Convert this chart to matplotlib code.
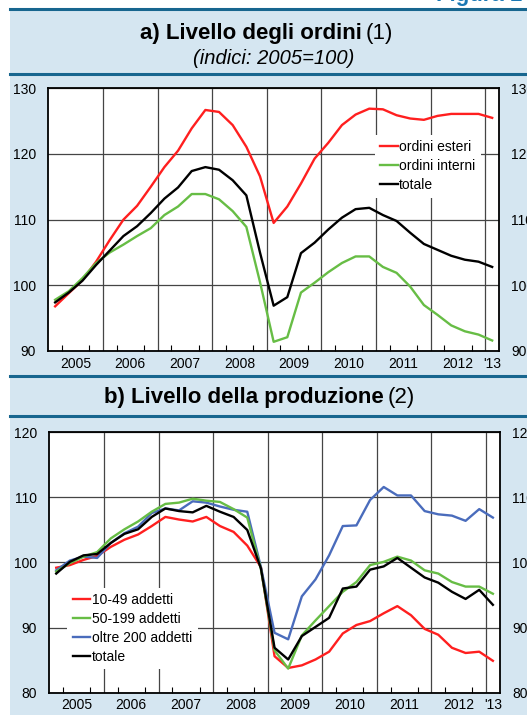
import numpy as np
import matplotlib
matplotlib.use("Agg")
import matplotlib.pyplot as plt
from matplotlib.patches import Rectangle
from matplotlib.lines import Line2D

plt.rcParams['font.family'] = ['Liberation Sans', 'DejaVu Sans']

# quarters 2005Q1 .. 2013Q1
years = [2005, 2006, 2007, 2008, 2009, 2010, 2011, 2012, 2013]
periods = [(y, q) for y in years for q in (1, 2, 3, 4)][:33]

# a) Livello degli ordini (indici: 2005=100)
ordini_esteri = [96.8, 98.8, 100.8, 103.6,
                 106.9, 110.0, 112.1, 115.0,
                 118.0, 120.5, 123.9, 126.7,
                 126.4, 124.4, 121.1, 116.6,
                 109.5, 112.0, 115.5, 119.3,
                 121.7, 124.4, 126.0, 126.9,
                 126.8, 125.9, 125.4, 125.2,
                 125.8, 126.1, 126.1, 126.1,
                 125.5]
ordini_interni = [97.8, 99.1, 101.1, 103.4,
                  105.0, 106.2, 107.5, 108.7,
                  110.7, 112.0, 113.9, 113.9,
                  113.1, 111.3, 108.9, 100.5,
                  91.4, 92.1, 98.9, 100.4,
                  102.0, 103.4, 104.4, 104.4,
                  102.8, 101.9, 99.8, 97.0,
                  95.5, 93.9, 93.0, 92.5,
                  91.6]
ordini_totale = [97.4, 98.9, 100.7, 103.1,
                 105.3, 107.5, 109.0, 111.0,
                 113.2, 114.9, 117.4, 118.0,
                 117.6, 116.0, 113.7, 105.0,
                 96.9, 98.2, 104.9, 106.5,
                 108.5, 110.3, 111.6, 111.8,
                 110.7, 109.8, 108.0, 106.3,
                 105.4, 104.5, 103.9, 103.6,
                 102.8]

# b) Livello della produzione
prod_10_49 = [99.2, 99.6, 100.4, 101.0,
              102.4, 103.5, 104.3, 105.6,
              107.0, 106.6, 106.3, 107.0,
              105.6, 104.7, 102.6, 99.3,
              85.6, 83.8, 84.2, 85.1,
              86.3, 89.1, 90.4, 91.0,
              92.2, 93.3, 91.9, 89.8,
              88.9, 86.9, 86.1, 86.3,
              84.9]
prod_50_199 = [98.6, 99.9, 100.9, 101.6,
               103.7, 105.1, 106.3, 107.8,
               109.0, 109.2, 109.8, 109.5,
               109.3, 108.2, 106.9, 99.0,
               86.5, 83.7, 88.8, 91.1,
               93.3, 95.5, 97.0, 99.6,
               100.1, 100.9, 100.3, 98.8,
               98.3, 97.0, 96.3, 96.3,
               95.2]
prod_oltre_200 = [98.8, 100.3, 100.9, 100.7,
                  103.0, 104.5, 105.5, 107.6,
                  108.3, 108.0, 109.4, 109.2,
                  108.6, 108.1, 107.8, 99.3,
                  89.2, 88.2, 94.8, 97.4,
                  101.1, 105.6, 105.7, 109.6,
                  111.6, 110.3, 110.3, 107.9,
                  107.4, 107.2, 106.4, 108.2,
                  106.9]
prod_totale = [98.3, 100.1, 101.1, 101.3,
               103.0, 104.4, 105.1, 107.0,
               108.3, 107.9, 107.7, 108.7,
               107.8, 107.0, 105.0, 99.1,
               86.9, 85.1, 88.7, 90.1,
               91.5, 96.0, 96.3, 98.9,
               99.4, 100.7, 99.2, 97.7,
               96.9, 95.5, 94.4, 95.8,
               93.5]

year_labels = ['2005', '2006', '2007', '2008', '2009', '2010', '2011', '2012', "'13"]

x = np.array([y + (q - 0.5) / 4 for y, q in periods])

W, H = 527, 715
BG = '#d5e6f1'
DARK = '#17668f'
RED = '#ff1f1f'
GREEN = '#67bd45'
BLUE = '#4a6cbc'


def fx(px):
    return px / W


def fy(px):
    return 1 - px / H


fig = plt.figure(figsize=(W / 100, H / 100), dpi=100)
fig.patches.append(Rectangle((fx(10), 0), 1, fy(9), transform=fig.transFigure,
                             facecolor=BG, edgecolor='none', zorder=-5))
for yy in (8.5, 74, 375.5, 416.5):
    fig.lines.append(Line2D([fx(10), 1], [fy(yy), fy(yy)], transform=fig.transFigure,
                            color=DARK, lw=2.2, zorder=-4))

# header of the page, cut by the crop
fig.text(fx(436), fy(1), "Figura 1", color='#1a78b4', weight='bold', fontsize=16,
         ha='left', va='baseline')

# titles
fig.text(fx(362), fy(33), "a) Livello degli ordini", ha='right', va='center',
         weight='bold', fontsize=16)
fig.text(fx(366), fy(33), "(1)", ha='left', va='center', fontsize=16)
fig.text(fx(274), fy(59), "(indici: 2005=100)", ha='center', va='center',
         style='italic', fontsize=14.5)
fig.text(fx(384), fy(397), "b) Livello della produzione", ha='right', va='center',
         weight='bold', fontsize=16)
fig.text(fx(388), fy(397), "(2)", ha='left', va='center', fontsize=16)


def style_axes(ax, ylim, yticks):
    ax.set_xlim(2005, 2013.25)
    ax.set_ylim(*ylim)
    ax.set_yticks(yticks)
    ax.yaxis.grid(True, color='#454545', lw=0.9)
    for yr in years[1:]:
        ax.axvline(yr, color='#454545', lw=0.9, zorder=1)
    ax.set_axisbelow(True)
    label_pos = [yr + 0.5 for yr in years[:-1]] + [2013.125]
    ax.set_xticks(label_pos)
    ax.set_xticklabels(year_labels)
    quarter_ticks = [yr + f for yr in years[:-1] for f in (0.25, 0.5, 0.75)]
    ax.set_xticks(quarter_ticks, minor=True)
    ax.tick_params(axis='x', which='major', length=0, pad=4, labelsize=10)
    ax.tick_params(axis='x', which='minor', length=4, direction='in', width=0.8)
    ax.tick_params(axis='y', length=0, pad=9, labelsize=10, labelright=True)
    for s in ax.spines.values():
        s.set_color('black')
        s.set_linewidth(1.3)
    ax.set_facecolor('white')


# panel a
ax1 = fig.add_axes([fx(48.3), fy(351), fx(499 - 48.3), (351 - 88.3) / H])
style_axes(ax1, (90, 130), [90, 100, 110, 120, 130])
l1, = ax1.plot(x, ordini_esteri, color=RED, lw=1.7, zorder=3)
l2, = ax1.plot(x, ordini_interni, color=GREEN, lw=1.7, zorder=3)
l3, = ax1.plot(x, ordini_totale, color='black', lw=1.7, zorder=3)
leg1 = ax1.legend([l1, l2, l3], ['ordini esteri', 'ordini interni', 'totale'],
                  loc='upper left', bbox_to_anchor=(0.724, 0.823), borderaxespad=0,
                  fontsize=10, handlelength=1.25, handletextpad=0.1, labelspacing=0.35,
                  frameon=True, fancybox=False, framealpha=1, borderpad=0.4)
leg1.get_frame().set_edgecolor('none')
leg1.get_frame().set_facecolor('white')

# panel b
ax2 = fig.add_axes([fx(49.4), fy(692.7), fx(499.7 - 49.4), (692.7 - 432.3) / H])
style_axes(ax2, (80, 120), [80, 90, 100, 110, 120])
m1, = ax2.plot(x, prod_10_49, color=RED, lw=1.7, zorder=3)
m3, = ax2.plot(x, prod_oltre_200, color=BLUE, lw=1.7, zorder=3)
m2, = ax2.plot(x, prod_50_199, color=GREEN, lw=1.7, zorder=3)
m4, = ax2.plot(x, prod_totale, color='black', lw=1.7, zorder=3)
leg2 = ax2.legend([m1, m2, m3, m4],
                  ['10-49 addetti', '50-199 addetti', 'oltre 200 addetti', 'totale'],
                  loc='upper left', bbox_to_anchor=(0.04, 0.403), borderaxespad=0,
                  fontsize=10, handlelength=1.25, handletextpad=0.1, labelspacing=0.35,
                  frameon=True, fancybox=False, framealpha=1, borderpad=0.4)
leg2.get_frame().set_edgecolor('none')
leg2.get_frame().set_facecolor('white')

fig.savefig("out.png", dpi=100, facecolor='white')
